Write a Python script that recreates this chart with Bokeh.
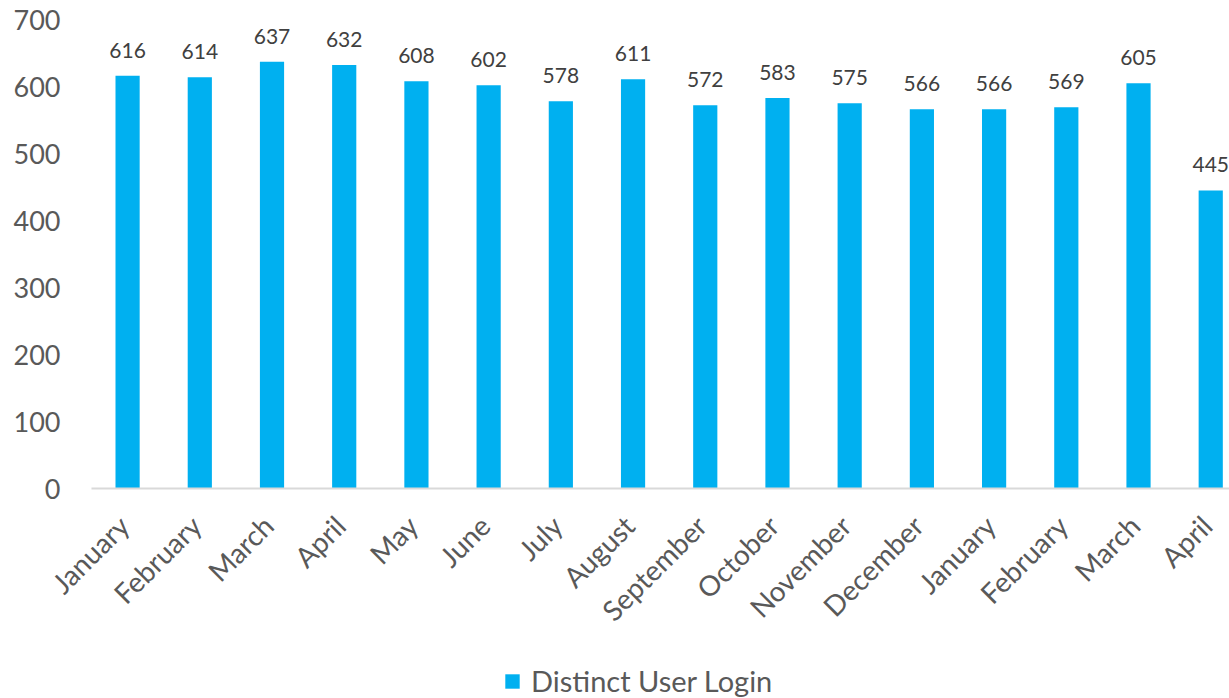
import math
from bokeh.plotting import figure
from bokeh.models import ColumnDataSource, LabelSet, Legend, LegendItem, Range1d, Span
from bokeh.core.properties import value
from bokeh.embed import file_html
from bokeh.resources import INLINE

months = ["January", "February", "March", "April", "May", "June", "July", "August",
          "September", "October", "November", "December", "January", "February",
          "March", "April"]
logins = [616, 614, 637, 632, 608, 602, 578, 611, 572, 583, 575, 566, 566, 569, 605, 445]
series_name = "Distinct User Login"
y_ticks = [0, 100, 200, 300, 400, 500, 600, 700]

FONT = "Lato"
BAR = "#00B0F0"
TXT = "#595959"

xs = list(range(len(months)))
X_START = -0.5  # left edge of the category area
src = ColumnDataSource(dict(x=xs, y=logins, lbl=[str(v) for v in logins],
                            base=[0] * len(xs), month=months))
ysrc = ColumnDataSource(dict(x=[X_START] * len(y_ticks), y=y_ticks,
                             t=[str(v) for v in y_ticks]))

# the frame covers the whole canvas so that no text is clipped
p = figure(width=1229, height=698, output_backend="svg", toolbar_location=None,
           x_range=Range1d(-1.76, 15.26), y_range=Range1d(-313.4, 728.4),
           min_border_left=0, min_border_right=0, min_border_top=0, min_border_bottom=0)
p.outline_line_color = None
p.grid.grid_line_color = None
p.axis.visible = False
p.background_fill_color = "white"
p.border_fill_color = "white"

r = p.vbar(x="x", top="y", bottom=0, width=0.335, source=src, fill_color=BAR, line_color=None)

# category axis line from the plot area's left edge to the right
p.segment(x0=X_START, y0=0, x1=15.26, y1=0, line_color="#D9D9D9", line_width=2)

# value axis labels
p.text(x="x", y="y", text="t", source=ysrc, text_align="right", text_baseline="middle",
       x_offset=-31, text_font=value(FONT), text_font_size="27px", text_color=TXT)

# category labels (rotated 45 degrees)
p.text(x="x", y="base", text="month", source=src, angle=math.pi / 4,
       text_align="right", text_baseline="top", x_offset=-16, y_offset=20,
       text_font=value(FONT), text_font_size="28px", text_color=TXT)

labels = LabelSet(x="x", y="y", text="lbl", source=src, text_align="center",
                  text_baseline="bottom", y_offset=18, text_font=value(FONT),
                  text_font_size="21px", text_color="#404040")
p.add_layout(labels)

legend = Legend(items=[LegendItem(label=series_name, renderers=[r])],
                location=(503, 0), orientation="horizontal",
                label_text_font=FONT, label_text_font_size="29px",
                label_text_color=TXT, glyph_width=18, glyph_height=18,
                border_line_color=None, background_fill_alpha=0,
                margin=0, padding=2, label_standoff=10)
p.add_layout(legend, "center")

open("out.html", "w").write(file_html(p, INLINE))
